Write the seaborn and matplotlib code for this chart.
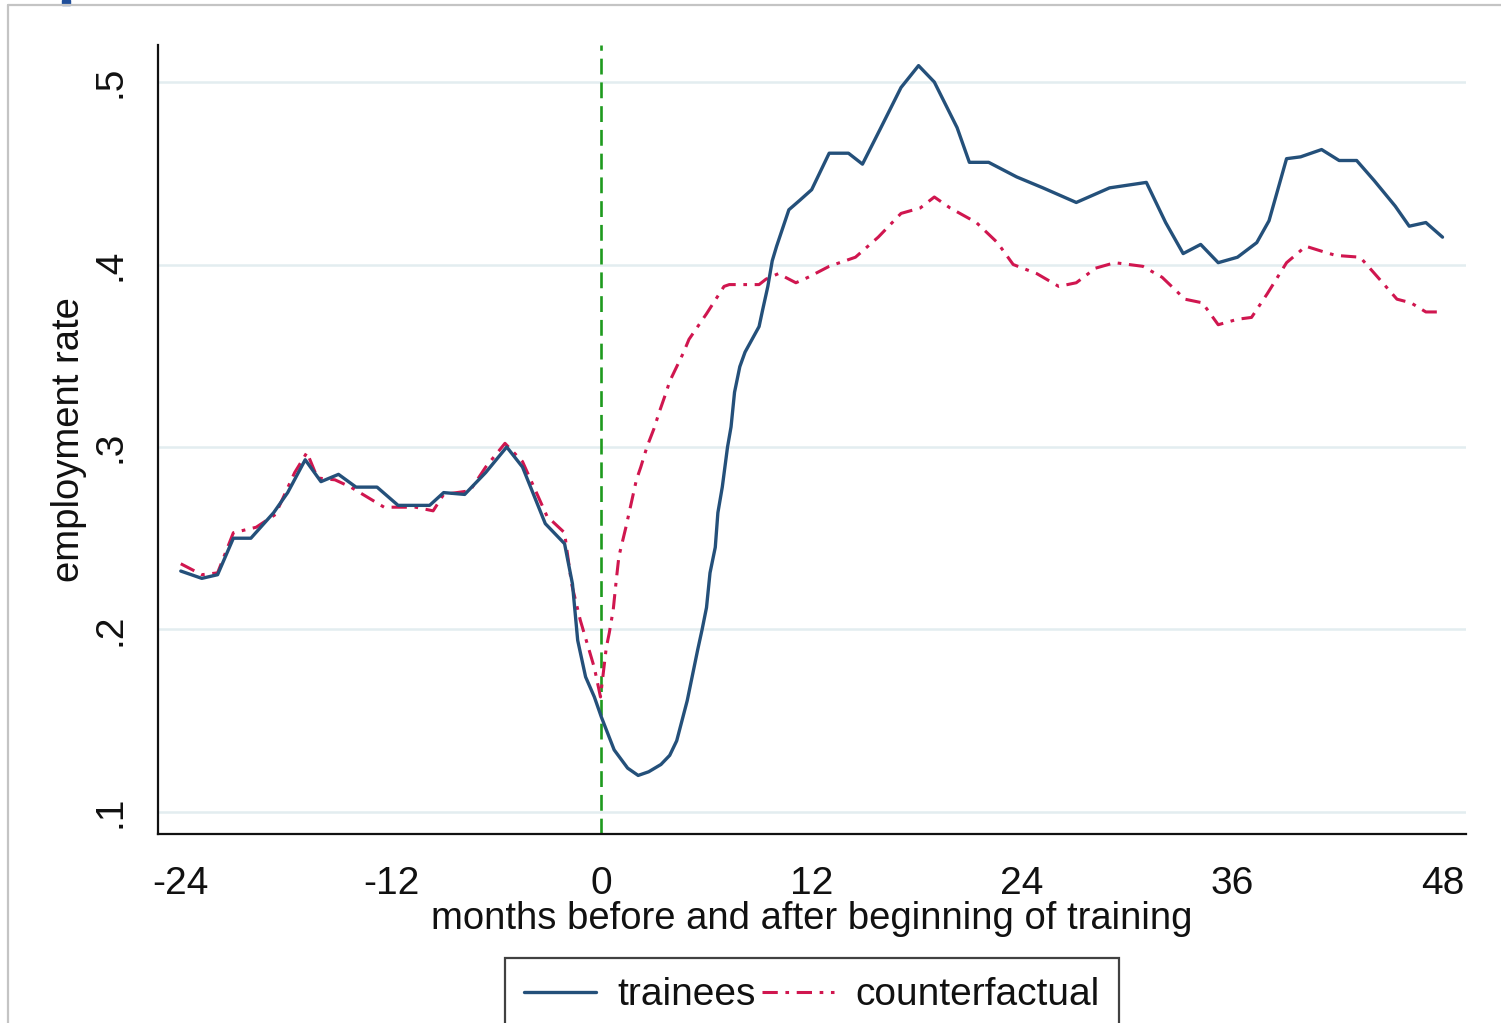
import numpy as np
import pandas as pd
import seaborn as sns
import matplotlib.pyplot as plt
from matplotlib.lines import Line2D
from matplotlib.patches import Rectangle

# months relative to start of training
trainee_month = [-24, -22.8, -21.9, -21.0, -20.0, -18.7, -17.9, -16.9, -16.0, -15.0,
                 -14.0, -12.8, -11.6, -9.8, -9.0, -7.8, -6.6, -5.4, -4.5, -3.2,
                 -2.1, -1.65, -1.35, -0.9, -0.4, 0.0, 0.73, 1.5, 2.1, 2.7,
                 3.4, 3.9, 4.3, 4.9, 5.5, 5.75, 6.0, 6.2, 6.5, 6.65,
                 6.9, 7.2, 7.4, 7.6, 7.9, 8.2, 8.6, 9.0, 9.2, 9.5,
                 9.75, 10.0, 10.7, 11.3, 12.0, 13.0, 14.1, 14.9, 15.9, 17.1,
                 18.1, 19.0, 20.3, 21.0, 22.1, 23.7, 25.2, 27.1, 29.0, 31.1,
                 32.2, 33.2, 34.2, 35.2, 36.3, 37.4, 38.1, 39.1, 39.9, 41.1,
                 42.1, 43.1, 44.1, 45.3, 46.1, 47.05, 48.0]
trainee_rate = [0.232, 0.228, 0.230, 0.250, 0.250, 0.264, 0.275, 0.293, 0.281, 0.285,
                0.278, 0.278, 0.268, 0.268, 0.275, 0.274, 0.286, 0.300, 0.289, 0.258,
                0.247, 0.225, 0.194, 0.174, 0.163, 0.152, 0.134, 0.124, 0.120, 0.122,
                0.126, 0.131, 0.139, 0.161, 0.189, 0.200, 0.212, 0.231, 0.245, 0.264,
                0.278, 0.300, 0.311, 0.330, 0.344, 0.352, 0.359, 0.366, 0.375, 0.388,
                0.402, 0.410, 0.430, 0.435, 0.441, 0.461, 0.461, 0.455, 0.474, 0.497,
                0.509, 0.500, 0.475, 0.456, 0.456, 0.448, 0.442, 0.434, 0.442, 0.445,
                0.423, 0.406, 0.411, 0.401, 0.404, 0.412, 0.424, 0.458, 0.459, 0.463,
                0.457, 0.457, 0.446, 0.432, 0.421, 0.423, 0.415]

cf_month = [-24, -22.8, -21.9, -21.0, -19.7, -18.6, -17.5, -16.8, -16.2, -15.2,
            -14.3, -12.4, -10.6, -9.6, -9.0, -7.5, -6.6, -5.5, -4.5, -3.1,
            -2.1, -1.7, -1.2, -0.4, -0.05, 0.28, 0.45, 0.68, 0.85, 1.0,
            1.4, 1.7, 2.0, 2.25, 2.6, 3.0, 3.3, 3.7, 3.9, 4.4,
            4.7, 5.0, 5.5, 6.0, 6.6, 7.0, 7.3, 9.0, 9.4, 10.1,
            11.1, 11.8, 13.0, 14.5, 15.8, 17.1, 18.2, 19.0, 19.9, 21.4,
            22.6, 23.5, 24.85, 26.1, 27.1, 28.2, 29.3, 30.9, 32.0, 33.3,
            34.3, 35.2, 36.3, 37.1, 38.0, 39.1, 40.2, 41.2, 41.9, 43.3,
            44.4, 45.4, 46.2, 47.05, 48.0]
cf_rate = [0.236, 0.230, 0.231, 0.253, 0.256, 0.263, 0.286, 0.297, 0.283, 0.282,
           0.278, 0.267, 0.267, 0.265, 0.274, 0.276, 0.289, 0.302, 0.292, 0.262,
           0.253, 0.225, 0.205, 0.179, 0.163, 0.190, 0.198, 0.211, 0.227, 0.240,
           0.256, 0.269, 0.282, 0.289, 0.300, 0.310, 0.319, 0.330, 0.336, 0.346,
           0.352, 0.359, 0.366, 0.373, 0.382, 0.388, 0.389, 0.389, 0.392, 0.395,
           0.390, 0.393, 0.399, 0.404, 0.415, 0.428, 0.431, 0.437, 0.431, 0.423,
           0.412, 0.400, 0.395, 0.388, 0.390, 0.398, 0.401, 0.399, 0.393, 0.381,
           0.379, 0.367, 0.370, 0.371, 0.384, 0.401, 0.410, 0.407, 0.405, 0.404,
           0.392, 0.381, 0.379, 0.374, 0.374]

x_ticks = [-24, -12, 0, 12, 24, 36, 48]
y_ticks = [0.1, 0.2, 0.3, 0.4, 0.5]
y_ticklabels = ['.1', '.2', '.3', '.4', '.5']

navy = '#24507a'
cranberry = '#d0164f'
green = '#1e9a1e'
dashdot = (0, (5, 2.5, 1.2, 2.5))

sns.set_style('white')
plt.rcParams['font.family'] = ['Liberation Sans', 'DejaVu Sans']

fig = plt.figure(figsize=(15.01, 10.23), dpi=100)
ax = fig.add_axes([158/1501, 1-834/1023, (1466-158)/1501, (834-45)/1023])

ax.yaxis.grid(True, color='#e3edf0', lw=1.8)
ax.set_axisbelow(True)

ax.axvline(0, color=green, lw=1.9, dashes=(6, 3), zorder=1)

sns.lineplot(x=trainee_month, y=trainee_rate, color=navy, lw=2.4, ax=ax,
             label='trainees', sort=False, zorder=3)
sns.lineplot(x=cf_month, y=cf_rate, color=cranberry, lw=2.2, ax=ax,
             label='counterfactual', sort=False, zorder=2, linestyle=dashdot)

ax.set_xlim(-25.3, 49.34)
ax.set_ylim(0.0879, 0.5203)
ax.set_xticks(x_ticks)
ax.set_xticklabels([str(t) for t in x_ticks])
ax.set_yticks(y_ticks)
ax.set_yticklabels(y_ticklabels)

for s in ['top', 'right']:
    ax.spines[s].set_visible(False)
for s in ['left', 'bottom']:
    ax.spines[s].set_color('#111111')
    ax.spines[s].set_linewidth(1.6)

ax.tick_params(axis='both', direction='out', length=11, width=1.6,
               color='#111111', labelsize=28, labelcolor='#111111')
ax.tick_params(axis='x', pad=12)
ax.tick_params(axis='y', pad=10, labelrotation=90)
for lab in ax.get_yticklabels():
    lab.set_va('center')

ax.set_xlabel('months before and after beginning of training', fontsize=27.5, color='#111111')
ax.set_ylabel('employment rate', fontsize=27.5, color='#111111')
ax.xaxis.set_label_coords(0.5, -0.085)
ax.yaxis.set_label_coords(-0.054, 0.5)

ax.get_legend().remove()
handles = [Line2D([], [], color=navy, lw=2.4),
           Line2D([], [], color=cranberry, lw=2.2, linestyle=dashdot)]
leg = fig.legend(handles, ['trainees', 'counterfactual'], ncol=2,
                 loc='upper center', bbox_to_anchor=(0.5407, 1-958/1023),
                 bbox_transform=fig.transFigure, fontsize=28,
                 frameon=True, fancybox=False, shadow=False,
                 handlelength=1.85, handletextpad=0.55, columnspacing=0.15,
                 borderpad=0.5, borderaxespad=0)
leg.get_frame().set_edgecolor('#111111')
leg.get_frame().set_linewidth(1.6)
for t in leg.get_texts():
    t.set_color('#111111')

# screenshot frame around the graph
fig.add_artist(Line2D([8/1501, 8/1501], [0, 1-5/1023], color='#c4c4c4', lw=1.6,
                      transform=fig.transFigure))
fig.add_artist(Line2D([8/1501, 1], [1-5/1023, 1-5/1023], color='#c4c4c4', lw=1.6,
                      transform=fig.transFigure))
fig.add_artist(Rectangle((62/1501, 1-5/1023), 8/1501, 5/1023, color='#1f4e9a',
                         transform=fig.transFigure))

fig.savefig('out.png', dpi=100)
